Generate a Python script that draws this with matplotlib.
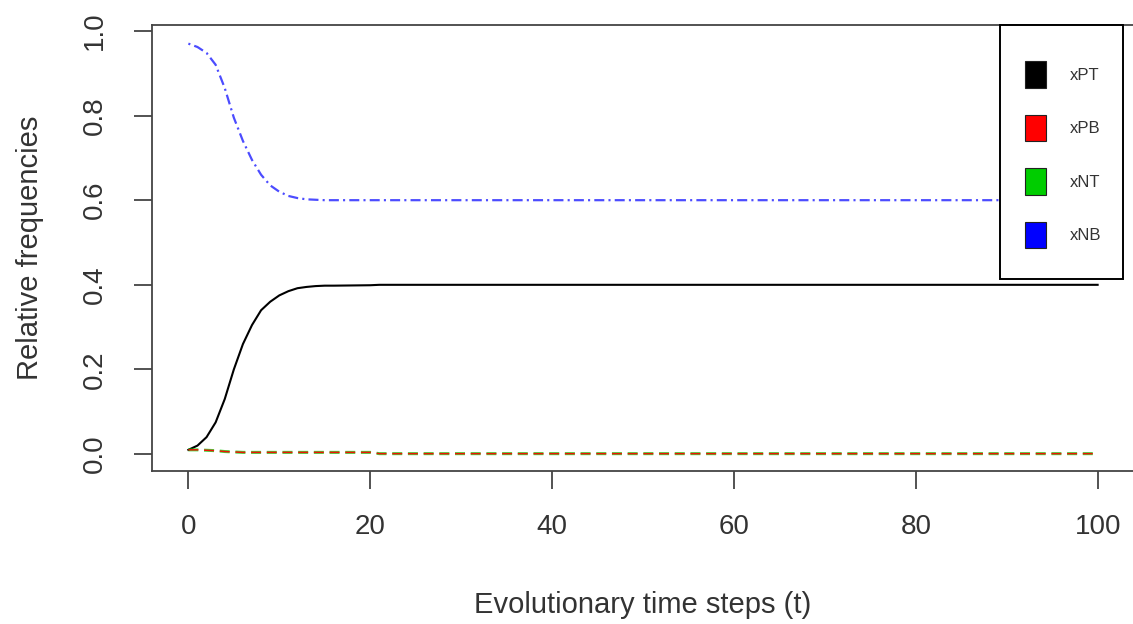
import matplotlib
matplotlib.use("Agg")
import matplotlib.pyplot as plt
from matplotlib.patches import Patch, Rectangle

plt.rcParams['font.family'] = ['Liberation Sans', 'DejaVu Sans']
plt.rcParams['lines.scale_dashes'] = False

# time steps and the four relative frequencies
t = [0, 1, 2, 3, 4, 5, 6, 7, 8, 9, 10, 11, 12, 13, 14, 15, 16, 20, 21, 100]
xPT = [0.01, 0.02, 0.04, 0.075, 0.13, 0.20, 0.26, 0.305, 0.34, 0.36,
       0.375, 0.385, 0.392, 0.395, 0.397, 0.398, 0.398, 0.399, 0.4, 0.4]
xPB = [0.01, 0.01, 0.009, 0.008, 0.006, 0.005, 0.004, 0.004, 0.004, 0.004,
       0.004, 0.004, 0.004, 0.004, 0.004, 0.004, 0.004, 0.004, 0.001, 0.001]
xNT = [0.01, 0.01, 0.009, 0.008, 0.006, 0.005, 0.004, 0.004, 0.004, 0.004,
       0.004, 0.004, 0.004, 0.004, 0.004, 0.004, 0.004, 0.004, 0.001, 0.001]
xNB = [0.97, 0.962, 0.948, 0.92, 0.865, 0.795, 0.74, 0.695, 0.66, 0.635,
       0.62, 0.61, 0.605, 0.602, 0.601, 0.60, 0.60, 0.60, 0.60, 0.60]

labels = ['xPT', 'xPB', 'xNT', 'xNB']
colors = ['black', '#FF0000', '#00CD00', '#0000FF']

W, H = 1133, 624
fig = plt.figure(figsize=(W / 100, H / 100), dpi=100)
ax = fig.add_axes([152 / W, 1 - 471 / H, (1134 - 152) / W, (471 - 25) / H])

ax.plot(t, xPT, color=colors[0], lw=1.5, ls='-')
ax.plot(t, xNT, color=colors[2], lw=2.2, ls=(0, (7.2, 4.1)), alpha=0.75)
ax.plot(t, xPB, color=colors[1], lw=1.1, ls=(0, (7.2, 4.1)), alpha=0.9)
ax.plot(t, xNB, color=colors[3], lw=1.6, ls=(0, (1.5, 3, 7.2, 3)), alpha=0.7)

ax.set_xlim(-4, 104)
ax.set_ylim(-0.04, 1.014)
ax.set_xticks([0, 20, 40, 60, 80, 100])
ax.set_yticks([0.0, 0.2, 0.4, 0.6, 0.8, 1.0])
ax.set_yticklabels(['0.0', '0.2', '0.4', '0.6', '0.8', '1.0'], rotation=90, va='center')

for s in ax.spines.values():
    s.set_color('#444444')
    s.set_linewidth(1.3)
ax.tick_params(axis='both', length=13, width=1.3, color='#444444',
               labelsize=20, labelcolor='#333333')
ax.tick_params(axis='x', pad=18)
ax.tick_params(axis='y', pad=19)

ax.set_xlabel('Evolutionary time steps (t)', fontsize=21, color='#333333', labelpad=37)
ax.set_ylabel('Relative frequencies', fontsize=21, color='#333333', labelpad=27)

# legend box (R style, taller than its contents)
frame = Rectangle((1000 / W, 1 - 279 / H), 123 / W, 254 / H, transform=fig.transFigure,
                  facecolor='white', edgecolor='black', lw=1.4, clip_on=False, zorder=4)
ax.add_patch(frame)

handles = [Patch(facecolor=c, edgecolor='#222222', lw=0.8) for c in colors]
leg = ax.legend(handles, labels, loc='upper left',
                bbox_to_anchor=(1025 / W, 1 - 61 / H), bbox_transform=fig.transFigure,
                fontsize=12, handlelength=1.26, handleheight=2.1, labelspacing=1.6,
                borderpad=0, handletextpad=1.4, borderaxespad=0, frameon=False)
leg.set_zorder(5)
for txt in leg.get_texts():
    txt.set_color('#333333')

fig.savefig('out.png', dpi=100)
